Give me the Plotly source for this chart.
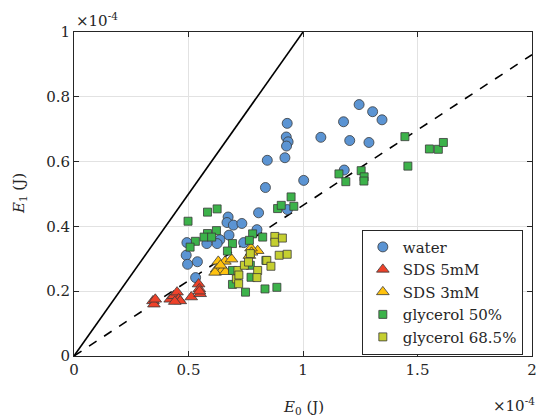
import plotly.graph_objects as go

# ---- data (units of 1e-4 J) ----
water_E0 = [1.245, 1.304, 1.345, 1.177, 0.931, 1.078, 1.204, 1.288, 0.927, 0.935, 0.928,
            0.844, 0.921, 1.003, 0.836, 1.180, 0.932, 0.673, 0.668, 0.696, 0.733, 0.806,
            0.799, 0.677, 0.637, 0.625, 0.580, 0.493, 0.490, 0.496, 0.539, 0.531, 0.741]
water_E1 = [0.776, 0.754, 0.729, 0.723, 0.718, 0.675, 0.665, 0.659, 0.676, 0.661, 0.648,
            0.604, 0.612, 0.542, 0.520, 0.574, 0.452, 0.429, 0.412, 0.404, 0.409, 0.442,
            0.390, 0.373, 0.359, 0.347, 0.347, 0.350, 0.311, 0.283, 0.291, 0.242, 0.350]

sds5_E0 = [0.345, 0.349, 0.355, 0.420, 0.435, 0.450, 0.457, 0.464, 0.440, 0.512, 0.544,
           0.547, 0.551, 0.548]
sds5_E1 = [0.170, 0.160, 0.175, 0.175, 0.186, 0.197, 0.176, 0.170, 0.168, 0.182, 0.222,
           0.207, 0.192, 0.200]

sds3_E0 = [0.630, 0.659, 0.688, 0.623, 0.645, 0.616, 0.662, 0.802, 0.773, 0.766, 0.640, 0.775]
sds3_E1 = [0.292, 0.292, 0.299, 0.268, 0.263, 0.258, 0.260, 0.325, 0.333, 0.310, 0.280, 0.320]

gly50_E0 = [0.498, 0.583, 0.625, 0.622, 0.583, 0.568, 0.601, 0.530, 0.507, 0.692, 0.780,
            0.824, 0.670, 0.692, 0.770, 0.773, 0.838, 0.692, 0.749, 0.834, 0.886, 0.889,
            0.905, 0.948, 0.960, 1.157, 1.187, 1.254, 1.267, 1.266, 1.445, 1.458, 1.552,
            1.591, 1.613, 0.766]
gly50_E1 = [0.416, 0.444, 0.454, 0.387, 0.378, 0.367, 0.367, 0.354, 0.336, 0.347, 0.377,
            0.367, 0.324, 0.264, 0.280, 0.243, 0.295, 0.221, 0.197, 0.207, 0.212, 0.455,
            0.465, 0.491, 0.462, 0.562, 0.538, 0.572, 0.553, 0.540, 0.677, 0.586, 0.639,
            0.638, 0.659, 0.357]

gly68_E0 = [0.877, 0.877, 0.910, 0.896, 0.931, 0.842, 0.860, 0.802, 0.799, 0.716, 0.709,
            0.719, 0.744, 0.770, 0.762, 0.720]
gly68_E1 = [0.369, 0.351, 0.364, 0.311, 0.314, 0.295, 0.277, 0.264, 0.242, 0.264, 0.238,
            0.223, 0.280, 0.316, 0.290, 0.250]

line1_x = [0, 1.0]
line1_y = [0, 1.0]
line2_x = [0, 2.0]
line2_y = [0, 0.93]

FONT = "DejaVu Serif"
TXT = "#262626"
EDGE = dict(color="#3a3a3a", width=0.8)

fig = go.Figure()
fig.add_trace(go.Scatter(x=line1_x, y=line1_y, mode="lines", showlegend=False,
                         line=dict(color="black", width=1.6)))
fig.add_trace(go.Scatter(x=line2_x, y=line2_y, mode="lines", showlegend=False,
                         line=dict(color="black", width=1.6, dash="dash")))

fig.add_trace(go.Scatter(x=water_E0, y=water_E1, mode="markers", name="water",
                         marker=dict(symbol="circle", size=10, color="#5b94d3", line=EDGE)))
fig.add_trace(go.Scatter(x=sds5_E0, y=sds5_E1, mode="markers", name="SDS 5mM",
                         marker=dict(symbol="triangle-up", size=11, color="#ee4129", line=EDGE)))
fig.add_trace(go.Scatter(x=sds3_E0, y=sds3_E1, mode="markers", name="SDS 3mM",
                         marker=dict(symbol="triangle-up", size=11, color="#ffc20e", line=EDGE)))
fig.add_trace(go.Scatter(x=gly50_E0, y=gly50_E1, mode="markers", name="glycerol 50%",
                         marker=dict(symbol="square", size=8, color="#3cb24a", line=EDGE)))
fig.add_trace(go.Scatter(x=gly68_E0, y=gly68_E1, mode="markers", name="glycerol 68.5%",
                         marker=dict(symbol="square", size=8, color="#c5cf30", line=EDGE)))

axis_common = dict(showgrid=True, gridcolor="#e2e2e2", gridwidth=1,
                   showline=True, linecolor=TXT, linewidth=1, mirror="ticks",
                   ticks="inside", ticklen=5, tickcolor=TXT, zeroline=False,
                   tickfont=dict(family=FONT, size=15, color=TXT))

fig.update_layout(
    width=549, height=418,
    margin=dict(l=74, r=12, t=32, b=62),
    paper_bgcolor="white", plot_bgcolor="white",
    font=dict(family=FONT, size=15, color=TXT),
    xaxis=dict(range=[0, 2], tickvals=[0, 0.5, 1, 1.5, 2], ticktext=["0", "0.5", "1", "1.5", "2"],
               **axis_common),
    yaxis=dict(range=[0, 1], tickvals=[0, 0.2, 0.4, 0.6, 0.8, 1],
               ticktext=["0", "0.2", "0.4", "0.6", "0.8", "1"], **axis_common),
    legend=dict(x=0.98, xanchor="right", y=0.39, yanchor="top",
                bgcolor="white", bordercolor=TXT, borderwidth=1,
                font=dict(family=FONT, size=15, color=TXT),
                itemwidth=30, tracegroupgap=0),
    showlegend=True,
)

fig.add_annotation(text="×10<sup>-4</sup>", xref="paper", yref="paper", x=0, y=1,
                   xanchor="left", yanchor="bottom", showarrow=False, yshift=0,
                   font=dict(family=FONT, size=15, color=TXT))
fig.add_annotation(text="×10<sup>-4</sup>", xref="paper", yref="paper", x=1.01, y=-0.15,
                   xanchor="right", yanchor="middle", showarrow=False,
                   font=dict(family=FONT, size=15, color=TXT))
fig.add_annotation(text="<i>E</i><sub>0</sub> (J)", xref="paper", yref="paper", x=0.5, y=-0.16,
                   xanchor="center", yanchor="middle", showarrow=False,
                   font=dict(family=FONT, size=15, color=TXT))
fig.add_annotation(text="<i>E</i><sub>1</sub> (J)", xref="paper", yref="paper", x=-0.12, y=0.5,
                   xanchor="center", yanchor="middle", showarrow=False, textangle=-90,
                   font=dict(family=FONT, size=15, color=TXT))

fig.write_html("out.html")
